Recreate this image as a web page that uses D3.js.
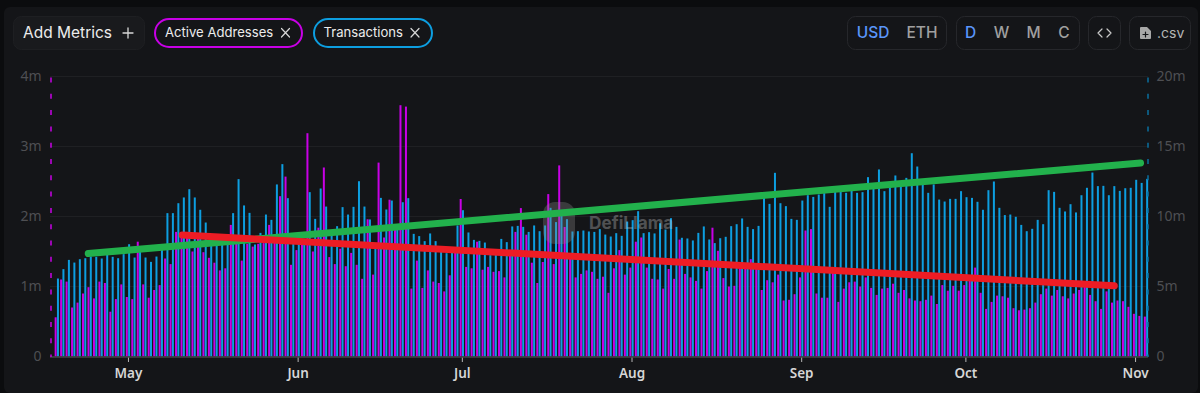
<!DOCTYPE html>
<html>
<head>
<meta charset="utf-8">
<script src="https://cdn.jsdelivr.net/npm/d3@7/dist/d3.min.js"></script>
<style>
  html, body { margin: 0; padding: 0; background: #0b0c0e; overflow: hidden; }
  text { font-family: Inter, "Noto Sans", sans-serif; }
</style>
</head>
<body>
<div id="chart-area"></div>
<script>
var outerWidth = 1200;
var outerHeight = 393;

// first bar is Apr 18, one value per day (millions)
var firstDay = "2025-04-18";

var activeAddresses = [
  0.56,1.10,1.07,0.70,0.77,0.90,0.99,0.83,1.07,1.05,0.64,0.82,1.03,0.85,0.82,1.64,1.03,0.84,0.95,1.02,
  1.40,1.32,1.78,1.75,1.72,1.50,1.70,1.49,1.41,1.34,1.23,1.26,1.88,1.72,
  1.37,1.61,1.57,1.61,1.62,1.88,1.70,2.29,2.57,1.31,1.52,1.65,3.19,1.50,1.84,2.70,1.42,1.32,1.54,1.29,
  1.48,1.31,1.11,1.96,1.17,2.77,1.70,2.24,1.81,3.59,3.57,0.97,1.37,0.98,1.23,1.07,1.05,
  0.93,1.16,1.50,2.25,1.28,1.26,1.64,1.24,1.28,1.21,1.22,1.13,1.44,1.78,2.12,1.74,1.34,1.05,1.35,2.32,
  1.32,2.73,1.85,1.40,1.13,1.18,1.23,1.21,1.11,1.14,0.91,1.26,1.52,1.17,1.27,1.64,
  1.70,1.27,1.11,1.10,0.97,1.25,1.11,1.67,1.18,1.13,1.08,0.97,1.22,1.84,1.51,1.12,1.00,1.01,1.28,1.29,
  1.39,1.27,0.95,1.09,1.06,1.17,0.80,0.81,0.89,1.13,1.80,1.82,0.90,0.84,0.84,1.22,0.78,
  0.97,1.06,1.07,1.00,1.13,0.98,0.88,0.97,0.98,1.04,0.91,0.95,0.83,0.80,0.79,0.81,0.87,0.75,1.02,0.94,
  1.01,0.94,1.02,1.10,1.27,0.91,0.68,0.78,0.87,0.86,0.84,0.69,0.66,
  0.67,0.69,0.77,0.89,0.97,0.87,0.95,0.86,0.83,0.90,0.95,1.00,0.88,0.79,0.68,0.93,0.77,0.80,0.79,0.71,
  0.61,0.58,0.57
];

var transactions = [
  5.57,6.24,6.90,6.71,6.95,7.02,7.14,7.12,7.00,7.31,7.12,7.02,7.31,8.02,7.07,7.55,7.07,6.76,7.14,7.67,
  10.24,10.24,10.95,11.36,11.95,11.36,10.48,9.57,8.26,7.90,8.14,8.38,10.24,12.67,
  10.79,10.26,8.00,8.83,10.14,9.76,12.29,13.74,11.31,8.12,8.12,8.24,11.74,9.83,12.00,10.71,8.71,9.31,10.67,10.14,
  10.69,12.52,10.71,9.79,7.76,11.33,10.50,11.14,9.07,11.02,11.31,8.76,8.60,8.24,8.79,8.24,
  7.52,7.38,7.48,9.36,10.45,8.86,8.33,8.26,8.14,7.24,7.29,8.40,8.17,9.29,9.33,9.26,8.90,9.36,8.95,9.36,
  10.62,9.60,10.14,9.81,8.93,8.95,9.00,8.93,8.90,9.10,8.71,8.57,8.81,8.62,9.64,9.74,10.38,
  8.81,8.88,8.79,9.52,9.07,9.88,9.26,8.48,8.43,8.29,8.83,9.29,8.36,8.10,8.45,8.55,9.31,9.45,9.86,9.26,
  9.10,9.33,11.33,10.90,13.12,10.95,10.74,9.83,9.76,11.14,11.52,11.40,11.57,11.67,10.69,11.79,
  11.81,11.69,11.88,11.69,11.74,12.81,12.02,13.36,11.81,12.17,12.93,12.17,12.76,14.52,13.57,12.29,11.69,12.29,11.21,11.07,
  11.26,11.26,11.81,11.38,11.33,11.05,10.48,11.88,12.50,10.62,10.10,10.14,9.98,
  9.40,8.95,9.12,9.76,9.45,11.88,11.76,10.62,10.36,10.88,10.29,11.52,12.05,13.14,12.17,12.19,11.52,12.17,11.83,12.02,
  12.05,12.62,12.40,12.69
];

// hand drawn trend lines, in active address units
var greenTrend = [["2025-04-23T18:00", 1.47], ["2025-11-02T00:00", 2.765]];
var redTrend = [["2025-05-10T22:00", 1.735], ["2025-10-28T05:00", 1.01]];

var monthTicks = ["2025-05-01","2025-06-01","2025-07-01","2025-08-01","2025-09-01","2025-10-01","2025-11-01"];
var leftTicks = [0, 1, 2, 3, 4];
var rightTicks = [0, 5, 10, 15, 20];

var purple = "#c800e6";
var blue = "#0d9ee0";
var axisFont = "'Noto Sans', sans-serif";

var parseDay = function(s) { return new Date(s + (s.length == 10 ? "T00:00" : "")); };

var days = activeAddresses.map(function(v, i) {
  var d = parseDay(firstDay);
  d.setDate(d.getDate() + i);
  return d;
});

// SVG
var svg = d3.select("#chart-area")
  .append("svg")
  .attr("width", outerWidth)
  .attr("height", outerHeight)
  .style("display", "block");

// card
svg.append("rect")
  .attr("x", 4).attr("y", 7).attr("width", 1194).attr("height", 386)
  .attr("rx", 6).attr("fill", "#141518");

// X scale, bars are centred on their day
var x = d3.scaleTime()
  .domain([days[0], days[days.length - 1]])
  .range([56.8, 1146]);

var yLeft = d3.scaleLinear().domain([0, 4]).range([356.5, 76.5]);
var yRight = d3.scaleLinear().domain([0, 20]).range([356.5, 76.5]);

// gridlines
svg.append("g").selectAll("line")
  .data(leftTicks.slice(1))
  .enter().append("line")
  .attr("x1", 50).attr("x2", 1148)
  .attr("y1", function(d) { return yLeft(d); })
  .attr("y2", function(d) { return yLeft(d); })
  .attr("stroke", "#1f2023");

// bars
svg.append("g").selectAll("rect")
  .data(activeAddresses)
  .enter().append("rect")
  .attr("x", function(d, i) { return x(days[i]) - 2.15; })
  .attr("y", function(d) { return yLeft(d); })
  .attr("width", 2)
  .attr("height", function(d) { return yLeft(0) - yLeft(d); })
  .attr("fill", purple);

svg.append("g").selectAll("rect")
  .data(transactions)
  .enter().append("rect")
  .attr("x", function(d, i) { return x(days[i]) + 0.15; })
  .attr("y", function(d) { return yRight(d); })
  .attr("width", 2)
  .attr("height", function(d) { return yRight(0) - yRight(d); })
  .attr("fill", blue);

// Bottom axis
svg.append("g")
  .attr("transform", "translate(0,357)")
  .call(d3.axisBottom(x)
    .tickValues(monthTicks.map(parseDay))
    .tickSize(5)
    .tickPadding(6)
    .tickFormat(d3.timeFormat("%b")))
  .call(function(g) {
    g.select(".domain").remove();
    g.selectAll("line").attr("stroke", "#b5b5b5");
    g.selectAll("text")
      .attr("fill", "#d6d6d6")
      .attr("font-size", "13.5px")
      .attr("font-weight", 600)
      .attr("font-family", axisFont)
      .style("font-family", axisFont);
  });

svg.append("line")
  .attr("x1", 50).attr("x2", 1148)
  .attr("y1", 357).attr("y2", 357)
  .attr("stroke", "#44464a").attr("stroke-width", 1.5);

// Left axis
svg.append("g")
  .attr("transform", "translate(50.5,0)")
  .call(d3.axisLeft(yLeft)
    .tickValues(leftTicks)
    .tickSize(0)
    .tickSizeOuter(0)
    .tickPadding(9)
    .tickFormat(function(d) { return d == 0 ? "0" : d + "m"; }))
  .call(function(g) {
    g.select(".domain")
      .attr("stroke", purple)
      .attr("stroke-width", 1.5)
      .attr("stroke-dasharray", "5,11.3")
      .attr("stroke-dashoffset", -13.7);
    g.selectAll("text")
      .attr("fill", "#4e4f53")
      .attr("font-size", "14px")
      .style("font-family", axisFont);
  });

// Right axis
svg.append("g")
  .attr("transform", "translate(1147.5,0)")
  .call(d3.axisRight(yRight)
    .tickValues(rightTicks)
    .tickSize(0)
    .tickSizeOuter(0)
    .tickPadding(9)
    .tickFormat(function(d) { return d == 0 ? "0" : d + "m"; }))
  .call(function(g) {
    g.select(".domain")
      .attr("stroke", "#0a6f9e")
      .attr("stroke-width", 1.5)
      .attr("stroke-dasharray", "5,11.3")
      .attr("stroke-dashoffset", -13.7);
    g.selectAll("text")
      .attr("fill", "#4e4f53")
      .attr("font-size", "14px")
      .style("font-family", axisFont);
  });

// watermark
var mark = svg.append("g").attr("opacity", 0.32);
mark.append("rect")
  .attr("x", 543).attr("y", 202).attr("width", 32).attr("height", 42)
  .attr("rx", 12).attr("fill", "#8a8a8a");
mark.append("text")
  .attr("x", 589).attr("y", 229)
  .attr("fill", "#d0d0d0")
  .attr("font-size", "17.2px")
  .attr("font-weight", 700)
  .text("DefiLlama");

// trend lines
var trendLine = d3.line()
  .x(function(d) { return x(parseDay(d[0])); })
  .y(function(d) { return yLeft(d[1]); });

svg.append("path")
  .attr("d", trendLine(greenTrend))
  .attr("fill", "none")
  .attr("stroke", "#22b14c")
  .attr("stroke-width", 7)
  .attr("stroke-linecap", "round");

svg.append("path")
  .attr("d", trendLine(redTrend))
  .attr("fill", "none")
  .attr("stroke", "#ed1c24")
  .attr("stroke-width", 7)
  .attr("stroke-linecap", "round");

// header controls
function box(bx, by, w, h, rx, fill, stroke, sw) {
  svg.append("rect")
    .attr("x", bx).attr("y", by).attr("width", w).attr("height", h).attr("rx", rx)
    .attr("fill", fill).attr("stroke", stroke).attr("stroke-width", sw);
}

function label(str, lx, ly, size, color, anchor, weight) {
  svg.append("text")
    .attr("x", lx).attr("y", ly)
    .attr("fill", color)
    .attr("font-size", size + "px")
    .attr("font-weight", weight || 400)
    .attr("text-anchor", anchor || "start")
    .text(str);
}

function icon(d, color, w) {
  svg.append("path")
    .attr("d", d).attr("fill", "none")
    .attr("stroke", color).attr("stroke-width", w).attr("stroke-linecap", "round").attr("stroke-linejoin", "round");
}

box(13.5, 16.5, 131, 33, 8, "#191a1d", "#1e1f22", 1);
label("Add Metrics", 23, 38, 15.5, "#ececec");
icon("M123,33H133M128,28V38", "#d8d8d8", 1.3);

box(155, 19, 147, 28, 14, "#141518", purple, 2);
label("Active Addresses", 165, 37, 13.1, "#ececec");
icon("M281.5,28.5L289.5,37M289.5,28.5L281.5,37", "#d8d8d8", 1.2);

box(314, 19, 118, 28, 14, "#141518", blue, 2);
label("Transactions", 323.5, 37, 13.1, "#ececec");
icon("M411,28.5L419,37M419,28.5L411,37", "#d8d8d8", 1.2);

box(847.5, 16.5, 99, 33, 8, "none", "#26272b", 1);
label("USD", 873, 38, 15.5, "#5a96fa", "middle", 500);
label("ETH", 922, 38, 15.5, "#a0a0a0", "middle", 500);

box(956.5, 16.5, 123, 33, 8, "none", "#26272b", 1);
label("D", 970.5, 38, 15.5, "#5a96fa", "middle", 500);
label("W", 1001.5, 38, 15.5, "#a0a0a0", "middle", 500);
label("M", 1033.5, 38, 15.5, "#a0a0a0", "middle", 500);
label("C", 1064, 38, 15.5, "#a0a0a0", "middle", 500);

box(1088.5, 16.5, 32, 33, 8, "none", "#26272b", 1);
icon("M1102,29L1098,33L1102,37M1107,29L1111,33L1107,37", "#c8c8c8", 1.2);

box(1129.5, 16.5, 61, 33, 8, "none", "#26272b", 1);
svg.append("path")
  .attr("d", "M1141,27H1147L1151,31V38Q1151,39 1150,39H1141Q1140,39 1140,38V28Q1140,27 1141,27Z")
  .attr("fill", "#a8a8a8");
icon("M1143,34.5H1148M1145.5,32V37", "#141518", 1.2);
label(".csv", 1157, 38, 14, "#b5b5b5");
</script>
</body>
</html>
